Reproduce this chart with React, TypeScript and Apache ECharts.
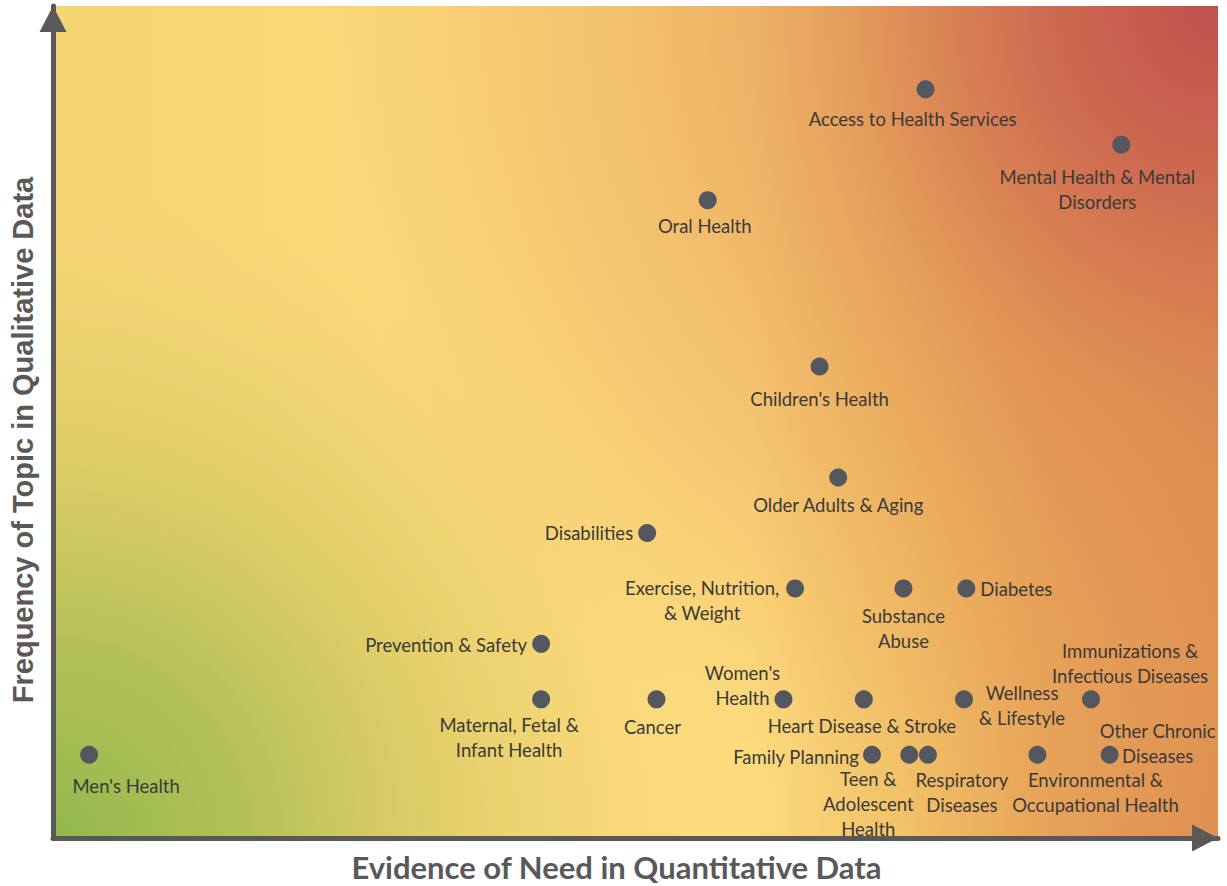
import React, { useEffect, useRef } from "react";
import * as echarts from "echarts";

// Topics (categories)
const topics: string[] = [
  "Access to Health Services",
  "Mental Health & Mental\nDisorders",
  "Oral Health",
  "Children's Health",
  "Older Adults & Aging",
  "Disabilities",
  "Exercise, Nutrition,\n& Weight",
  "Substance\nAbuse",
  "Diabetes",
  "Prevention & Safety",
  "Maternal, Fetal &\nInfant Health",
  "Cancer",
  "Women's\nHealth",
  "Heart Disease & Stroke",
  "Wellness\n& Lifestyle",
  "Immunizations &\nInfectious Diseases",
  "Men's Health",
  "Family Planning",
  "Teen &\nAdolescent\nHealth",
  "Respiratory\nDiseases",
  "Environmental &\nOccupational Health",
  "Other Chronic\nDiseases",
];

// Evidence of need in quantitative data (x, relative 0-100 scale)
const evidence: number[] = [
  74.9, 91.7, 56.2, 65.8, 67.4, 51.0, 63.7, 73.0, 78.4, 41.9, 41.9, 51.8, 62.7,
  69.6, 78.2, 89.1, 3.1, 70.3, 73.5, 75.1, 84.5, 90.7,
];

// Frequency of topic in qualitative data (y)
const frequency: number[] = [
  13, 12, 11, 8, 6, 5, 4, 4, 4, 3, 2, 2, 2, 2, 2, 2, 1, 1, 1, 1, 1, 1,
];

// Label placement (style only): [dx, dy, align]
const labelPlacement: [number, number, string][] = [
  [-13, 30, "center"],
  [-24, 45, "center"],
  [-3, 26, "center"],
  [0, 32, "center"],
  [0, 28, "center"],
  [-14, 0, "right"],
  [-93, 12.5, "center"],
  [0, 40.5, "center"],
  [14, 1, "left"],
  [-14, 1, "right"],
  [-32, 38.5, "center"],
  [-4, 28, "center"],
  [-41, -13.5, "center"],
  [-2, 27, "center"],
  [58, 6.5, "center"],
  [39, -35.5, "center"],
  [37, 31, "center"],
  [-13, 2, "right"],
  [-41, 49, "center"],
  [34, 37.5, "center"],
  [58, 37.5, "center"],
  [48, -11.5, "center"],
];

const GRID = { left: 53, right: 9, top: 6, bottom: 48 };
const W = 1227;
const H = 886;

export default function App() {
  const ref = useRef<HTMLDivElement>(null);

  useEffect(() => {
    if (!ref.current) return;
    const chart = echarts.init(ref.current, undefined, { renderer: "svg" });

    const x0 = GRID.left;
    const y0 = GRID.top;
    const x1 = W - GRID.right;
    const y1 = H - GRID.bottom;
    const gw = x1 - x0;
    const gh = y1 - y0;

    const base = new echarts.graphic.LinearGradient(
      x0,
      0,
      x1,
      0,
      [
        { offset: 0, color: "#f6d575" },
        { offset: 0.35, color: "#fbd97a" },
        { offset: 0.6, color: "#fddc7e" },
        { offset: 0.73, color: "#f2c268" },
        { offset: 0.86, color: "#e6a058" },
        { offset: 1, color: "#dd8c50" },
      ],
      true
    );
    const green = new echarts.graphic.RadialGradient(
      x0,
      y1,
      650,
      [
        { offset: 0, color: "rgba(146,184,78,1)" },
        { offset: 0.3, color: "rgba(168,189,82,0.85)" },
        { offset: 0.6, color: "rgba(200,196,90,0.5)" },
        { offset: 0.85, color: "rgba(215,200,100,0.15)" },
        { offset: 1, color: "rgba(230,205,110,0)" },
      ],
      true
    );
    const red = new echarts.graphic.RadialGradient(
      x1,
      y0,
      900,
      [
        { offset: 0, color: "rgba(192,80,77,1)" },
        { offset: 0.2, color: "rgba(204,102,80,0.9)" },
        { offset: 0.45, color: "rgba(222,138,82,0.62)" },
        { offset: 0.75, color: "rgba(232,160,88,0.32)" },
        { offset: 1, color: "rgba(240,180,100,0)" },
      ],
      true
    );

    const data = topics.map((t, i) => {
      const [dx, dy, align] = labelPlacement[i];
      return {
        name: t,
        value: [evidence[i], frequency[i]],
        label: {
          show: true,
          position: "inside",
          offset: [dx, dy],
          align,
          verticalAlign: "middle",
        },
      };
    });

    const axisCommon = {
      type: "value",
      nameLocation: "middle",
      axisLine: {
        show: true,
        onZero: false,
        symbol: ["none", "triangle"],
        symbolSize: [27, 26],
        symbolOffset: [0, -13],
        lineStyle: { color: "#595959", width: 5 },
      },
      axisTick: { show: false },
      axisLabel: { show: false },
      splitLine: { show: false },
      z: 3,
    };

    chart.setOption({
      animation: false,
      grid: {
        ...GRID,
        outerBoundsMode: "none",
        containLabel: false,
      },
      graphic: {
        elements: [
          {
            type: "rect",
            silent: true,
            z: 0,
            shape: { x: x0, y: y0, width: gw, height: gh },
            style: { fill: base },
          },
          {
            type: "rect",
            silent: true,
            z: 0,
            shape: { x: x0, y: y0, width: gw, height: gh },
            style: { fill: green },
          },
          {
            type: "rect",
            silent: true,
            z: 0,
            shape: { x: x0, y: y0, width: gw, height: gh },
            style: { fill: red },
          },
        ],
      },
      xAxis: {
        ...axisCommon,
        min: 0,
        max: 100,
        name: "Evidence of Need in Quantitative Data",
        nameGap: 13,
        nameTextStyle: {
          fontFamily: "Lato",
          fontWeight: "bold",
          fontSize: 31,
          color: "#595959",
          padding: [0, 38, 0, 0],
        },
      },
      yAxis: {
        ...axisCommon,
        min: -0.5,
        max: 14.5,
        name: "Frequency of Topic in Qualitative Data",
        nameGap: 16,
        nameTextStyle: {
          fontFamily: "Liberation Sans",
          fontWeight: "bold",
          fontSize: 29,
          color: "#595959",
          padding: [0, 36, 0, 0],
        },
      },
      series: [
        {
          type: "scatter",
          symbol: "circle",
          symbolSize: 18,
          z: 4,
          itemStyle: { color: "#54575d", opacity: 1 },
          label: {
            show: true,
            formatter: (p: any) => p.name,
            fontFamily: "Lato",
            fontSize: 18.5,
            lineHeight: 25,
            color: "#3a3a3a",
          },
          data,
        },
      ],
    });

    return () => chart.dispose();
  }, []);

  return (
    <div
      ref={ref}
      style={{ position: "absolute", left: 0, top: 0, width: W, height: H }}
    />
  );
}
